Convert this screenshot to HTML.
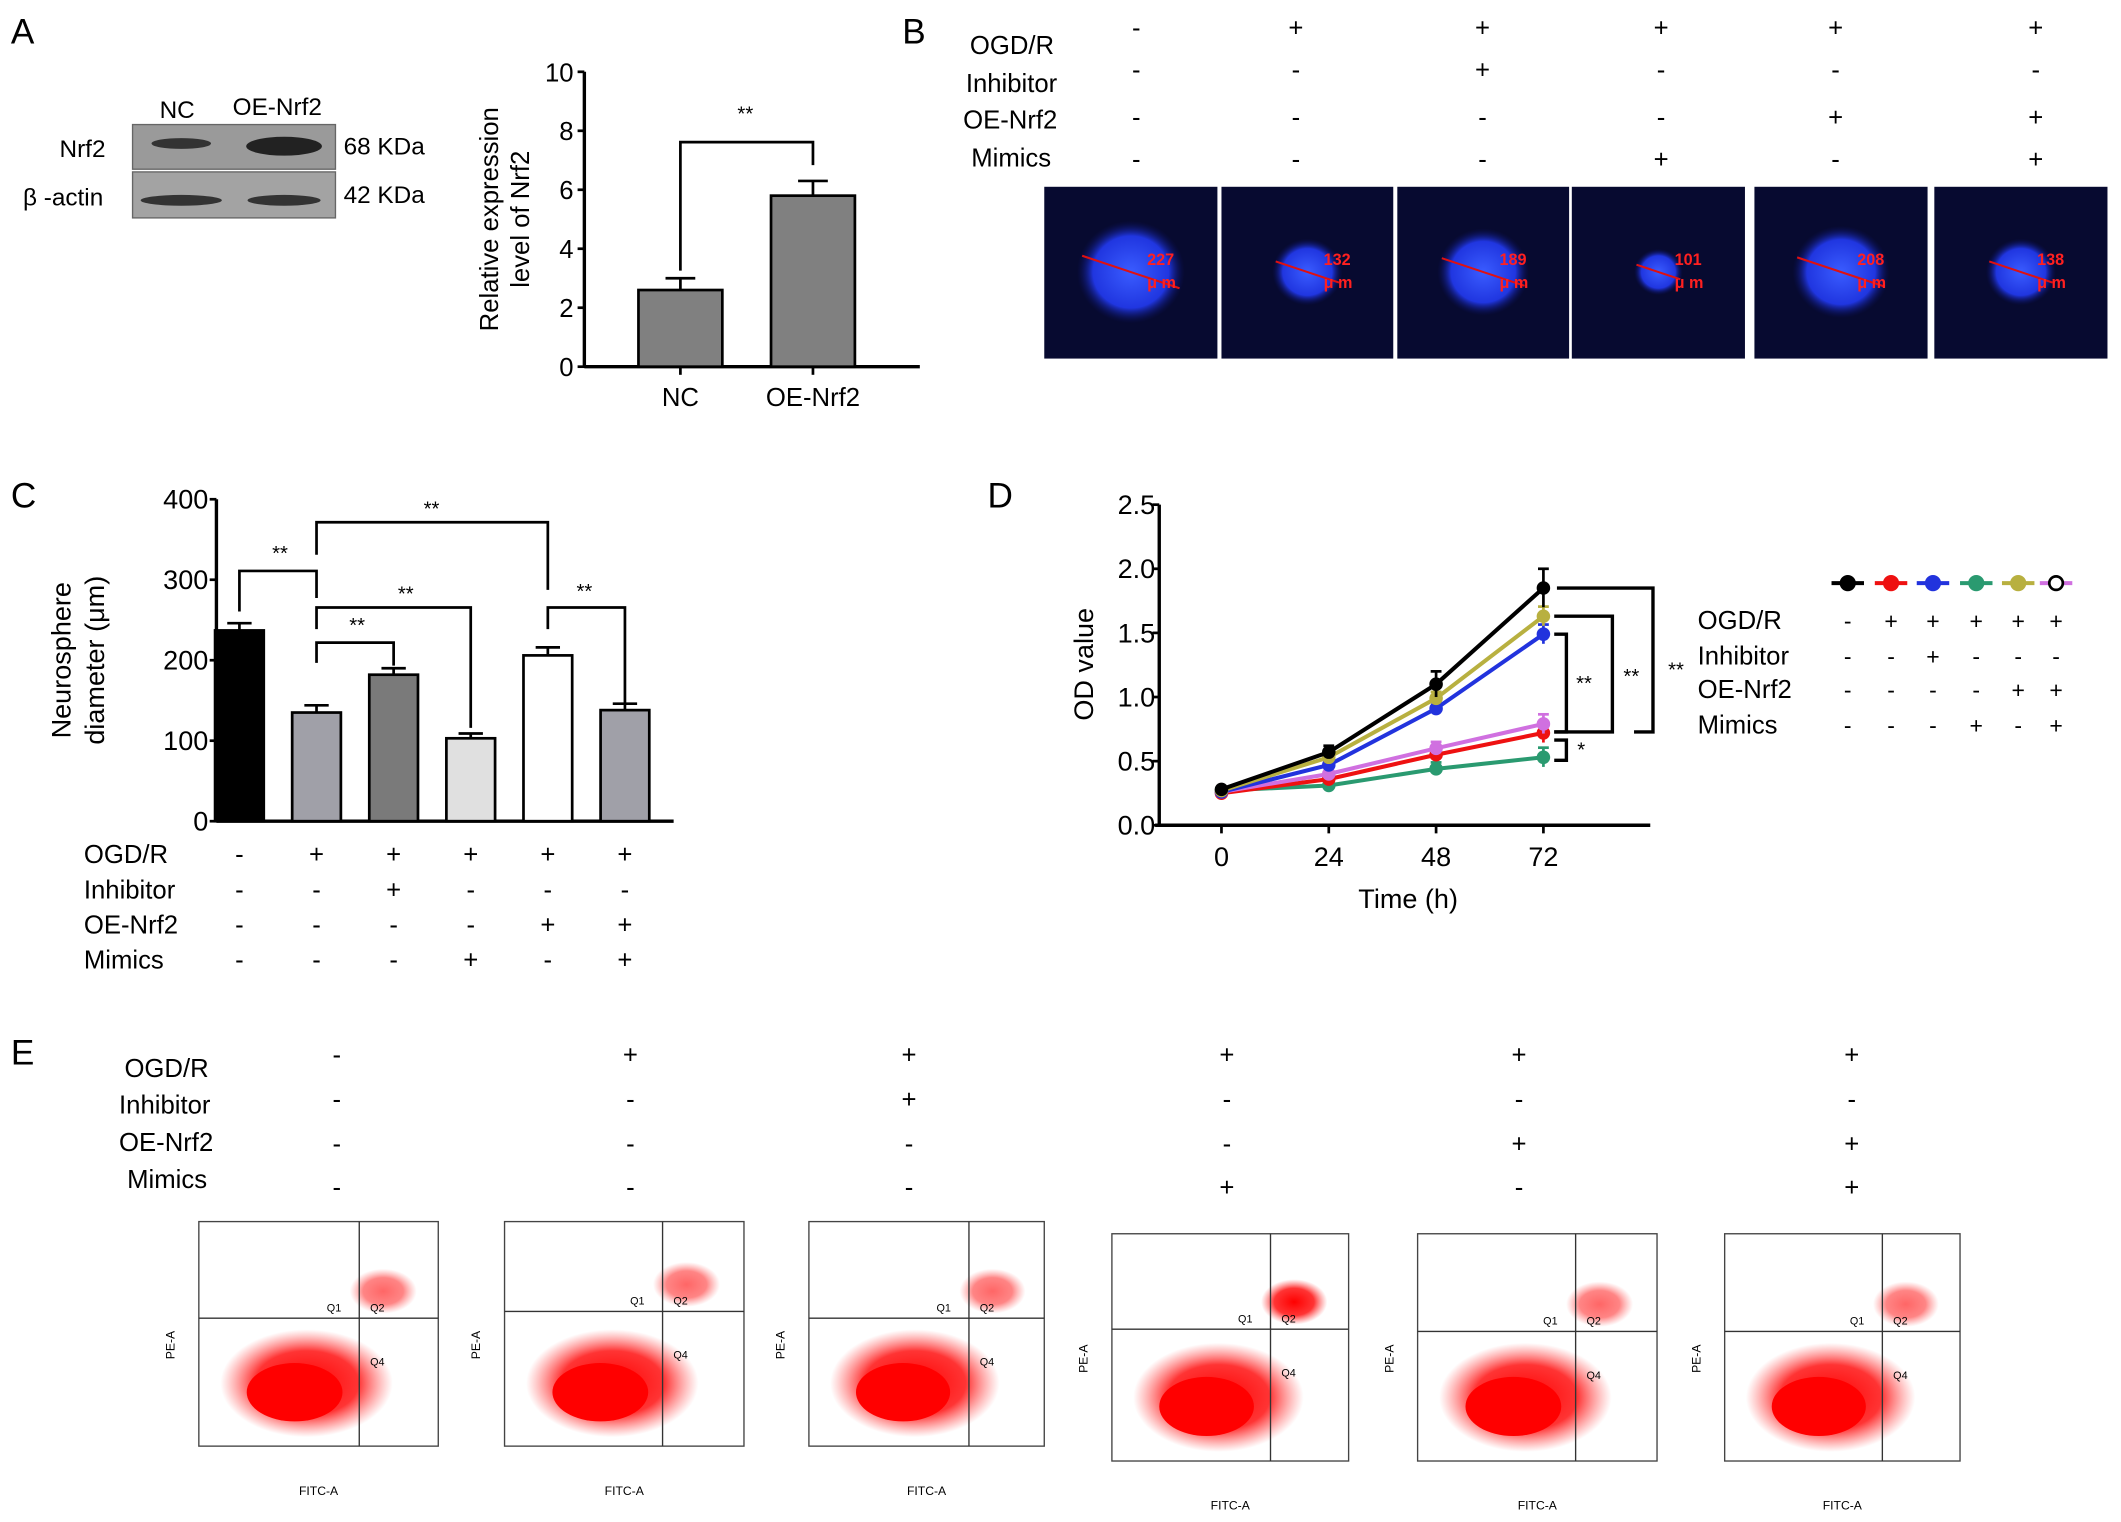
<!DOCTYPE html>
<html><head><meta charset="utf-8"><style>
html,body{margin:0;padding:0;background:#fff}
svg{display:block;font-family:"Liberation Sans",Arial,sans-serif}
</style></head><body>
<svg id="fig" width="2121" height="1522" viewBox="0 0 1568 1125" xmlns="http://www.w3.org/2000/svg">
<defs>
<radialGradient id="blob" cx="50%" cy="50%" r="50%"><stop offset="0" stop-color="#ff0000" stop-opacity="1"/><stop offset="0.6" stop-color="#ff1010" stop-opacity="0.85"/><stop offset="1" stop-color="#ff4040" stop-opacity="0"/></radialGradient>
<radialGradient id="cell" cx="50%" cy="50%" r="50%"><stop offset="0" stop-color="#3a5cff"/><stop offset="0.7" stop-color="#2036e0"/><stop offset="1" stop-color="#0a1060" stop-opacity="0"/></radialGradient>
</defs>
<g font-size="26">
<text x="8" y="32">A</text><text x="667" y="32">B</text><text x="8" y="375">C</text><text x="730" y="375">D</text><text x="8" y="787">E</text>
</g>
<g font-size="18">
<text x="118" y="87">NC</text><text x="172" y="85">OE-Nrf2</text>
<rect x="98" y="92" width="150" height="33" fill="#9a9a9a" stroke="#666"/>
<rect x="98" y="127" width="150" height="34" fill="#a3a3a3" stroke="#666"/>
<ellipse cx="134" cy="106" rx="22" ry="4" fill="#333"/><ellipse cx="210" cy="108" rx="28" ry="7" fill="#222"/>
<ellipse cx="134" cy="148" rx="30" ry="4" fill="#333"/><ellipse cx="210" cy="148" rx="27" ry="4" fill="#333"/>
<text x="44" y="116">Nrf2</text><text x="17" y="152">β -actin</text>
<text x="254" y="114">68 KDa</text><text x="254" y="150">42 KDa</text>
</g>
<g id="chartA"></g>
<g font-size="19">
<text x="717" y="40">OGD/R</text><text x="714" y="68">Inhibitor</text><text x="712" y="95">OE-Nrf2</text><text x="718" y="123">Mimics</text>
</g>
<g id="signsB" font-size="19" text-anchor="middle"></g>
<g id="imagesB"></g>
<g id="chartC"></g>
<g id="chartD"></g>
<g font-size="19">
<text x="92" y="796">OGD/R</text><text x="88" y="823">Inhibitor</text><text x="88" y="851">OE-Nrf2</text><text x="94" y="878">Mimics</text>
</g>
<g id="signsE" font-size="19" text-anchor="middle"></g>
<g id="flows"></g>
</svg>
<script>
const NS="http://www.w3.org/2000/svg";
function el(tag,attrs,parent,text){const e=document.createElementNS(NS,tag);for(const k in attrs)e.setAttribute(k,attrs[k]);if(text!==undefined)e.textContent=text;parent.appendChild(e);return e;}

const catsA=["NC","OE-Nrf2"];
const valsA=[2.6,5.8];
const errA=[0.4,0.5];
const ticksA=[0,2,4,6,8,10];

(function(){
const g=document.getElementById('chartA');
const x0=432,yB=271,yT=53,max=10;
const y=v=>yB-(yB-yT)*v/max;
const cx=i=>503+i*98;
el('line',{x1:x0,y1:yT,x2:x0,y2:yB+1,stroke:'#000','stroke-width':2.5},g);
el('line',{x1:x0,y1:yB,x2:680,y2:yB,stroke:'#000','stroke-width':2.5},g);
ticksA.forEach(t=>{el('line',{x1:x0-5,y1:y(t),x2:x0,y2:y(t),stroke:'#000','stroke-width':2},g);
const tx=el('text',{x:x0-8,y:y(t)+7,'text-anchor':'end','font-size':19},g,t);});
catsA.forEach((c,i)=>{
const b=el('rect',{x:cx(i)-31,y:y(valsA[i]),width:62,height:yB-y(valsA[i]),fill:'#808080',stroke:'#000','stroke-width':2},g);

const top=y(valsA[i]+errA[i]);
el('line',{x1:cx(i),y1:y(valsA[i]),x2:cx(i),y2:top,stroke:'#000','stroke-width':2},g);
el('line',{x1:cx(i)-11,y1:top,x2:cx(i)+11,y2:top,stroke:'#000','stroke-width':2},g);
el('line',{x1:cx(i),y1:yB,x2:cx(i),y2:yB+6,stroke:'#000','stroke-width':2},g);
const lb=el('text',{x:cx(i),y:300,'text-anchor':'middle','font-size':19},g,c);
});
el('path',{d:'M503 200 V105 H601 V122',fill:'none',stroke:'#000','stroke-width':2},g);
el('text',{x:551,y:89,'text-anchor':'middle','font-size':15},g,'**');
const yt=el('text',{transform:'translate(368,162) rotate(-90)','text-anchor':'middle','font-size':19},g);
el('tspan',{x:0,dy:0},yt,'Relative expression');el('tspan',{x:0,dy:23},yt,'level of Nrf2');

})();

const signsB=[["-","+","+","+","+","+"],["-","-","+","-","-","-"],["-","-","-","-","+","+"],["-","-","-","+","-","+"]];
(function(){
const g=document.getElementById('signsB');const xs=[840,958,1096,1228,1357,1505];const ys=[27,58,93,124];
signsB.forEach((r,ri)=>r.forEach((s,ci)=>el('text',{x:xs[ci],y:ys[ri]},g,s)));
const gi=document.getElementById('imagesB');
const boxes=[[772,900,40,"227"],[903,1030,26,"132"],[1033,1160,34,"189"],[1162,1290,18,"101"],[1297,1425,36,"208"],[1430,1558,26,"138"]];
boxes.forEach((b,i)=>{
const w=b[1]-b[0];const r=el('rect',{x:b[0],y:138,width:w,height:127,fill:'#070a30'},gi);

const cx=b[0]+w/2,cy=201;
el('ellipse',{cx:cx,cy:cy,rx:b[2],ry:b[2]*0.95,fill:'url(#cell)'},gi);
el('line',{x1:cx-b[2]*0.9,y1:cy-b[2]*0.3,x2:cx+b[2]*0.9,y2:cy+b[2]*0.3,stroke:'#e01010','stroke-width':1.5},gi);
el('text',{x:cx+12,y:cy-5,fill:'#ff2020','font-size':12,'font-weight':'bold'},gi,b[3]);
el('text',{x:cx+12,y:cy+12,fill:'#ff2020','font-size':12,'font-weight':'bold'},gi,'μ m');
});
})();

const catsC=["g1","g2","g3","g4","g5","g6"];
const valsC=[237,135,182,103,206,138];
const errC=[9,9,8,6,10,8];
const fillsC=['#000','#a0a0a8','#7a7a7a','#e0e0e0','#fff','#a0a0a8'];
const ticksC=[0,100,200,300,400];
const signsC=[["-","+","+","+","+","+"],["-","-","+","-","-","-"],["-","-","-","-","+","+"],["-","-","-","+","-","+"]];
(function(){
const g=document.getElementById('chartC');
const x0=160,yB=607,yT=369,max=400;const y=v=>yB-(yB-yT)*v/max;const cx=i=>177+i*57;
el('line',{x1:x0,y1:yT,x2:x0,y2:yB+1,stroke:'#000','stroke-width':2.5},g);
el('line',{x1:x0,y1:yB,x2:498,y2:yB,stroke:'#000','stroke-width':2.5},g);
ticksC.forEach(t=>{el('line',{x1:x0-5,y1:y(t),x2:x0,y2:y(t),stroke:'#000','stroke-width':2},g);
const tx=el('text',{x:x0-6,y:y(t)+7,'text-anchor':'end','font-size':20},g,t);});
valsC.forEach((v,i)=>{
const b=el('rect',{x:cx(i)-18,y:y(v),width:36,height:yB-y(v),fill:fillsC[i],stroke:'#000','stroke-width':2},g);

const top=y(v+errC[i]);
el('line',{x1:cx(i),y1:y(v),x2:cx(i),y2:top,stroke:'#000','stroke-width':2},g);
el('line',{x1:cx(i)-9,y1:top,x2:cx(i)+9,y2:top,stroke:'#000','stroke-width':2},g);
});
const br=(a,b,h,ha,hb)=>el('path',{d:`M${cx(a)} ${ha} V${h} H${cx(b)} V${hb}`,fill:'none',stroke:'#000','stroke-width':2},g);
br(0,1,422,452,442);el('text',{x:207,y:414,'text-anchor':'middle','font-size':15},g,'**');
br(1,4,386,410,436);el('text',{x:319,y:381,'text-anchor':'middle','font-size':15},g,'**');
br(1,3,449,465,538);el('text',{x:300,y:444,'text-anchor':'middle','font-size':15},g,'**');
br(1,2,475,490,492);el('text',{x:264,y:467,'text-anchor':'middle','font-size':15},g,'**');
br(4,5,449,465,520);el('text',{x:432,y:442,'text-anchor':'middle','font-size':15},g,'**');
const yt=el('text',{transform:'translate(52,488) rotate(-90)','text-anchor':'middle','font-size':20},g);
el('tspan',{x:0,dy:0},yt,'Neurosphere');el('tspan',{x:0,dy:25},yt,'diameter (μm)');

const names=["OGD/R","Inhibitor","OE-Nrf2","Mimics"];const ys=[638,664,690,716];
names.forEach((n,r)=>{el('text',{x:62,y:ys[r],'font-size':19},g,n);signsC[r].forEach((s,i)=>el('text',{x:cx(i),y:ys[r],'text-anchor':'middle','font-size':19},g,s));});
})();

const timesD=[0,24,48,72];
const seriesBlack=[0.28,0.57,1.10,1.85];
const seriesRed=[0.25,0.36,0.55,0.72];
const seriesBlue=[0.26,0.47,0.91,1.49];
const seriesGreen=[0.27,0.31,0.44,0.53];
const seriesOlive=[0.27,0.53,0.99,1.63];
const seriesViolet=[0.26,0.40,0.60,0.79];
const errD=[0.02,0.05,0.10,0.15];
const ticksD=[0,0.5,1.0,1.5,2.0,2.5];
const signsD=[["-","+","+","+","+","+"],["-","-","+","-","-","-"],["-","-","-","-","+","+"],["-","-","-","+","-","+"]];
(function(){
const g=document.getElementById('chartD');
const x0=857,yB=610,yT=373,max=2.5;const y=v=>yB-(yB-yT)*v/max;const x=t=>903+(1141-903)*t/72;
el('line',{x1:x0,y1:yT,x2:x0,y2:yB+1,stroke:'#000','stroke-width':2.5},g);
el('line',{x1:x0-3,y1:yB,x2:1220,y2:yB,stroke:'#000','stroke-width':2.5},g);
ticksD.forEach(t=>{el('line',{x1:x0-5,y1:y(t),x2:x0,y2:y(t),stroke:'#000','stroke-width':2},g);
const tx=el('text',{x:x0-3,y:y(t)+7,'text-anchor':'end','font-size':20},g,t.toFixed(1));});
timesD.forEach(t=>{el('line',{x1:x(t),y1:yB,x2:x(t),y2:yB+6,stroke:'#000','stroke-width':2},g);
const tx=el('text',{x:x(t),y:640,'text-anchor':'middle','font-size':20},g,t);});
const ser=[[seriesGreen,'#2a9a70','green'],[seriesRed,'#ee1111','red'],[seriesViolet,'#d070e0','violet'],[seriesBlue,'#2233dd','blue'],[seriesOlive,'#b8b040','olive'],[seriesBlack,'#000','black']];
ser.forEach(([d,c,n])=>{
const p=el('polyline',{points:d.map((v,i)=>x(timesD[i])+','+y(v)).join(' '),fill:'none',stroke:c,'stroke-width':3},g);

d.forEach((v,i)=>{const e=errD[i]*(n==='black'?1:0.5);
el('line',{x1:x(timesD[i]),y1:y(v-e),x2:x(timesD[i]),y2:y(v+e),stroke:c,'stroke-width':2},g);
el('line',{x1:x(timesD[i])-4,y1:y(v+e),x2:x(timesD[i])+4,y2:y(v+e),stroke:c,'stroke-width':2},g);
const m=el('circle',{cx:x(timesD[i]),cy:y(v),r:5,fill:c},g);});
});
const xe=x(72);
el('path',{d:`M${xe+10} ${y(seriesBlack[3])} H1222 V541 H1208`,fill:'none',stroke:'#000','stroke-width':2.5},g);
el('path',{d:`M${xe+8} ${y(seriesOlive[3])} H1192 V541 H${xe+8}`,fill:'none',stroke:'#000','stroke-width':2.5},g);
el('path',{d:`M${xe+8} ${y(seriesBlue[3])} H1158 V541 H${xe+8}`,fill:'none',stroke:'#000','stroke-width':2.5},g);
el('path',{d:`M${xe+8} 547 H1158 V562 H${xe+8}`,fill:'none',stroke:'#000','stroke-width':2.5},g);
el('text',{x:1171,y:510,'text-anchor':'middle','font-size':15},g,'**');el('text',{x:1206,y:505,'text-anchor':'middle','font-size':15},g,'**');el('text',{x:1239,y:500,'text-anchor':'middle','font-size':15},g,'**');el('text',{x:1166,y:559,'font-size':15},g,'*');
const yt=el('text',{transform:'translate(808,491) rotate(-90)','text-anchor':'middle','font-size':20},g,'OD value');
const xt=el('text',{x:1041,y:671,'text-anchor':'middle','font-size':20},g,'Time (h)');
const lx=[1366,1398,1429,1461,1492,1520];const lc=['#000','#ee1111','#2233dd','#2a9a70','#b8b040','#d070e0'];
lc.forEach((c,i)=>{const l=el('line',{x1:lx[i]-12,y1:431,x2:lx[i]+12,y2:431,stroke:c,'stroke-width':3},g);
el('circle',{cx:lx[i],cy:431,r:5,fill:i==5?'#fff':c,stroke:i==5?'#000':c,'stroke-width':2},g);});
const names=["OGD/R","Inhibitor","OE-Nrf2","Mimics"];const ys=[465,491,516,542];
names.forEach((n,r)=>{el('text',{x:1255,y:ys[r],'font-size':19},g,n);signsD[r].forEach((s,i)=>el('text',{x:lx[i],y:ys[r],'text-anchor':'middle','font-size':17},g,s));});
})();

const signsE=[["-","+","+","+","+","+"],["-","-","+","-","-","-"],["-","-","-","-","+","+"],["-","-","-","+","-","+"]];
(function(){
const g=document.getElementById('signsE');const xs=[249,466,672,907,1123,1369];const ys=[786,819,852,884];
signsE.forEach((r,ri)=>r.forEach((s,ci)=>el('text',{x:xs[ci],y:ys[ri]},g,s)));
const f=document.getElementById('flows');
const boxes=[[147,903,324,1069,0.67,0.43],[373,903,550,1069,0.66,0.40],[598,903,772,1069,0.68,0.43],[822,912,997,1080,0.67,0.42],[1048,912,1225,1080,0.66,0.43],[1275,912,1449,1080,0.67,0.43]];
boxes.forEach((b,i)=>{
const w=b[2]-b[0],h=b[3]-b[1];
const r=el('rect',{x:b[0],y:b[1],width:w,height:h,fill:'#fff',stroke:'#444','stroke-width':1},f);

const qx=b[0]+w*b[4],qy=b[1]+h*b[5];
el('ellipse',{cx:b[0]+w*0.45,cy:b[1]+h*0.72,rx:w*0.36,ry:h*0.24,fill:'url(#blob)'},f);
el('ellipse',{cx:b[0]+w*0.4,cy:b[1]+h*0.76,rx:w*0.2,ry:h*0.13,fill:'#ff0000'},f);
el('ellipse',{cx:qx+w*0.1,cy:qy-h*0.12,rx:w*0.14,ry:h*0.1,fill:'url(#blob)',opacity:i==3?1:0.6},f);
el('line',{x1:qx,y1:b[1],x2:qx,y2:b[3],stroke:'#333','stroke-width':1},f);
el('line',{x1:b[0],y1:qy,x2:b[2],y2:qy,stroke:'#333','stroke-width':1},f);
el('text',{x:qx-24,y:qy-5,'font-size':8},f,'Q1');el('text',{x:qx+8,y:qy-5,'font-size':8},f,'Q2');el('text',{x:qx+8,y:qy+35,'font-size':8},f,'Q4');
el('text',{x:b[0]+w*0.5,y:b[3]+36,'text-anchor':'middle','font-size':9},f,'FITC-A');
el('text',{transform:`translate(${b[0]-18},${b[1]+h*0.55}) rotate(-90)`,'text-anchor':'middle','font-size':9},f,'PE-A');
});
})();
</script>
</body></html>
